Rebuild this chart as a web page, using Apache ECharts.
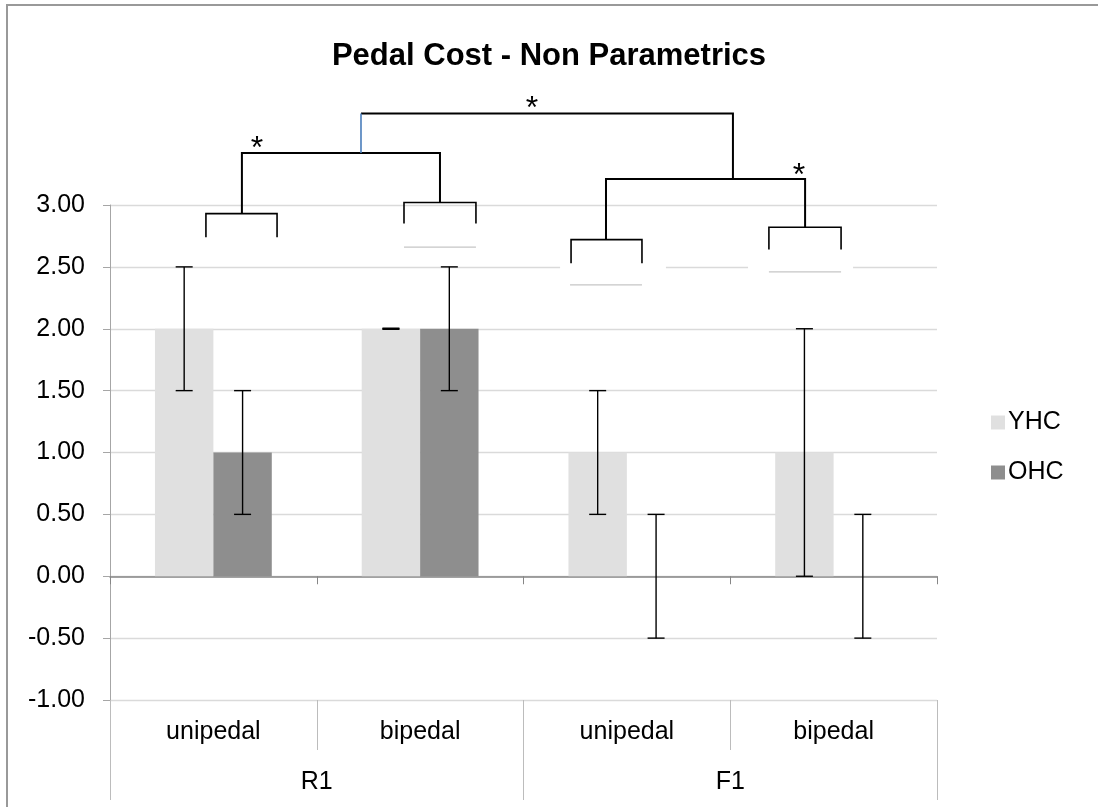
<!DOCTYPE html>
<html>
<head>
<meta charset="utf-8">
<script src="https://cdn.jsdelivr.net/npm/echarts@6/dist/echarts.min.js"></script>
<style>
html,body{margin:0;padding:0;background:#fff;}
#chart{width:1098px;height:807px;}
</style>
</head>
<body>
<div id="chart"></div>
<script>
// ---- data ----
const categories = ['unipedal', 'bipedal', 'unipedal', 'bipedal'];
const groups = ['R1', 'F1'];
const seriesNames = ['YHC', 'OHC'];
const yhcValues = [2.0, 2.0, 1.0, 1.0];
const ohcValues = [1.0, 2.0, 0.0, 0.0];
const yhcErrLow = [1.5, 2.0, 0.5, 0.0];
const yhcErrHigh = [2.5, 2.0, 1.5, 2.0];
const ohcErrLow = [0.5, 1.5, -0.5, -0.5];
const ohcErrHigh = [1.5, 2.5, 0.5, 0.5];
const yTicks = { min: -1, max: 3, interval: 0.5 };
// significance brackets: points as [category index (fractional), value]
const brackets = [
  [[-0.036, 2.74], [-0.036, 2.93], [0.308, 2.93], [0.308, 2.74]],
  [[0.922, 2.85], [0.922, 3.02], [1.270, 3.02], [1.270, 2.85]],
  [[0.138, 2.93], [0.138, 3.42], [1.096, 3.42], [1.096, 3.02]],
  [[0.714, 3.74], [2.513, 3.74], [2.513, 3.21]],
  [[1.899, 2.72], [1.899, 3.21], [2.862, 3.21], [2.862, 2.82]],
  [[1.730, 2.53], [1.730, 2.72], [2.073, 2.72], [2.073, 2.53]],
  [[2.687, 2.64], [2.687, 2.82], [3.036, 2.82], [3.036, 2.64]]
];
const bracketWidths = [1.6, 1.6, 2, 2, 2, 1.6, 1.6];
const blueLinks = [[[0.714, 3.42], [0.714, 3.74]]];
const grayLines = [
  [[0.922, 2.66], [1.270, 2.66]],
  [[1.725, 2.354], [2.073, 2.354]],
  [[2.687, 2.459], [3.036, 2.459]]
];
const whiteCovers = [[1.677, 2.189, 2.5], [2.586, 3.094, 2.5]];
const stars = [[0.211, 3.49], [1.541, 3.815], [2.833, 3.275]];

const FONT = "'Liberation Sans', Arial, sans-serif";
const GAP = 0.435;

const chart = echarts.init(document.getElementById('chart'), null, { renderer: 'canvas' });

function errSeries(name, lows, highs, side) {
  return {
    type: 'custom',
    name: name + ' err',
    xAxisIndex: 0,
    clip: false,
    silent: true,
    z: 5,
    data: categories.map((_, i) => [i, lows[i], highs[i]]),
    encode: { x: 0, y: [1, 2] },
    renderItem: function (params, api) {
      const i = api.value(0);
      const band = api.size([1, 0])[0];
      const bw = band * (1 - GAP) / 2;
      const lo = api.coord([i, api.value(1)]);
      const hi = api.coord([i, api.value(2)]);
      const x = lo[0] + side * bw / 2;
      const cap = 8.5;
      const st = { stroke: '#000', lineWidth: 1.4 };
      const children = [
        { type: 'line', shape: { x1: x - cap, y1: hi[1], x2: x + cap, y2: hi[1] }, style: st },
        { type: 'line', shape: { x1: x - cap, y1: lo[1], x2: x + cap, y2: lo[1] }, style: st }
      ];
      if (Math.abs(hi[1] - lo[1]) > 0.5) {
        children.push({ type: 'line', shape: { x1: x, y1: hi[1], x2: x, y2: lo[1] }, style: st });
      } else {
        children[0].style = { stroke: '#000', lineWidth: 2.5 };
      }
      return { type: 'group', children: children };
    }
  };
}

function toPx(p, api) {
  const c = api.coord([0, p[1]]);
  const band = api.size([1, 0])[0];
  return [c[0] + p[0] * band, c[1]];
}

const option = {
  backgroundColor: '#fff',
  animation: false,
  textStyle: { fontFamily: FONT },
  title: {
    text: 'Pedal Cost - Non Parametrics',
    left: 'center',
    top: 36,
    textStyle: { fontFamily: FONT, fontSize: 31, fontWeight: 'bold', color: '#000' }
  },
  legend: {
    orient: 'vertical',
    left: 986,
    top: 405,
    itemWidth: 14,
    itemHeight: 14,
    itemGap: 25,
    icon: 'rect',
    data: seriesNames,
    textStyle: { fontFamily: FONT, fontSize: 25, color: '#000', padding: [0, 0, 0, -2] }
  },
  grid: { left: 110, right: 161, top: 205, bottom: 107 },
  xAxis: [
    {
      type: 'category',
      data: categories,
      position: 'bottom',
      axisLine: { show: true, onZero: true, lineStyle: { color: '#868686', width: 1.5 } },
      axisTick: { show: true, interval: 0, length: 8, lineStyle: { color: '#868686' } },
      axisLabel: { show: false },
      splitLine: { show: false }
    },
    {
      type: 'category',
      data: categories,
      position: 'bottom',
      axisLine: { show: false, onZero: false },
      axisTick: { show: true, interval: 0, length: 50, lineStyle: { color: '#bcbcbc' } },
      axisLabel: { interval: 0, margin: 20, fontSize: 25, color: '#000', fontFamily: FONT },
      splitLine: { show: false }
    },
    {
      type: 'category',
      data: groups,
      position: 'bottom',
      axisLine: { show: false, onZero: false },
      axisTick: { show: true, interval: 0, length: 100, lineStyle: { color: '#bcbcbc' } },
      axisLabel: { interval: 0, margin: 70, fontSize: 25, color: '#000', fontFamily: FONT },
      splitLine: { show: false }
    }
  ],
  yAxis: {
    type: 'value',
    min: yTicks.min,
    max: yTicks.max,
    interval: yTicks.interval,
    axisLine: { show: true, lineStyle: { color: '#a6a6a6' } },
    axisTick: { show: true, length: 7, lineStyle: { color: '#a6a6a6' } },
    axisLabel: { formatter: v => v.toFixed(2), margin: 25, fontSize: 25, color: '#000', fontFamily: FONT },
    splitLine: { show: true, lineStyle: { color: '#dadada', width: 1.3 } }
  },
  series: [
    {
      name: seriesNames[0], type: 'bar', xAxisIndex: 0, data: yhcValues,
      itemStyle: { color: '#e0e0e0' }, barGap: '0%', barCategoryGap: (GAP * 100) + '%'
    },
    {
      name: seriesNames[1], type: 'bar', xAxisIndex: 0, data: ohcValues,
      itemStyle: { color: '#8e8e8e' }, barGap: '0%', barCategoryGap: (GAP * 100) + '%'
    },
    errSeries(seriesNames[0], yhcErrLow, yhcErrHigh, -1),
    errSeries(seriesNames[1], ohcErrLow, ohcErrHigh, 1),
    {
      type: 'custom',
      name: 'annotations',
      xAxisIndex: 0,
      clip: false,
      silent: true,
      z: 6,
      data: [[0, 0]],
      renderItem: function (params, api) {
        const children = [];
        whiteCovers.forEach(w => {
          const a = toPx([w[0], w[2]], api), b = toPx([w[1], w[2]], api);
          children.push({ type: 'rect', shape: { x: a[0], y: a[1] - 2.5, width: b[0] - a[0], height: 5 }, style: { fill: '#fff' } });
        });
        grayLines.forEach(l => {
          children.push({ type: 'polyline', shape: { points: l.map(p => toPx(p, api)) }, style: { stroke: '#c6c6c6', lineWidth: 1.2, fill: null } });
        });
        brackets.forEach((b, k) => {
          children.push({ type: 'polyline', shape: { points: b.map(p => toPx(p, api)) }, style: { stroke: '#000', lineWidth: bracketWidths[k], fill: null, lineJoin: 'miter' } });
        });
        blueLinks.forEach(l => {
          children.push({ type: 'polyline', shape: { points: l.map(p => toPx(p, api)) }, style: { stroke: '#4a7ebb', lineWidth: 1.6, fill: null } });
        });
        stars.forEach(s => {
          const p = toPx(s, api);
          children.push({ type: 'text', style: { text: '*', x: p[0], y: p[1] + 5, align: 'center', verticalAlign: 'middle', font: '32px ' + FONT, fill: '#000' } });
        });
        return { type: 'group', children: children };
      }
    }
  ],
  graphic: [
    { type: 'rect', silent: true, z: 100, shape: { x: 7, y: 5, width: 1200, height: 900 }, style: { fill: null, stroke: '#999', lineWidth: 2 } }
  ]
};

chart.setOption(option);
</script>
</body>
</html>
